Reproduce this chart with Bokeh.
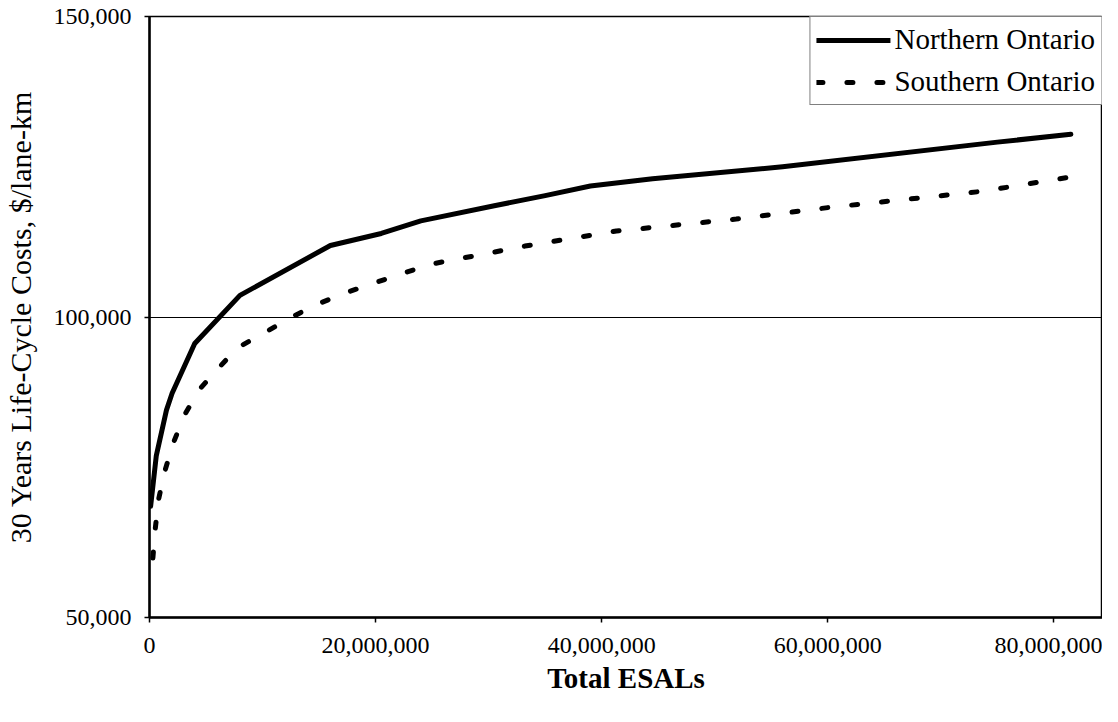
from bokeh.plotting import figure
from bokeh.models import NumeralTickFormatter, FixedTicker, Range1d
from bokeh.embed import file_html
from bokeh.resources import INLINE

# Data
north_esals = [100000, 600000, 1500000, 2000000, 4000000, 8000000, 16000000, 20500000,
               24000000, 30500000, 35000000, 39000000, 44500000, 56000000, 75000000, 81500000]
north_cost = [68500, 76900, 84500, 87300, 95600, 103600, 111900, 113900,
              116000, 118500, 120200, 121800, 123000, 125000, 129100, 130400]

south_esals = [300000, 500000, 800000, 1300000, 2100000, 3100000, 4400000, 6000000,
               7800000, 10200000, 12500000, 14800000, 17300000, 19800000, 22300000,
               24900000, 30500000, 33200000, 41300000, 51900000, 60000000, 68100000,
               73600000, 81200000]
south_cost = [59900, 64600, 69600, 74000, 79000, 83700, 87900, 91300,
              94900, 97400, 99900, 102100, 104000, 105600, 107200,
              108800, 110800, 111800, 114300, 116300, 118200, 119800,
              120900, 123200]

x_ticks = [0, 20000000, 40000000, 60000000, 80000000]
y_ticks = [50000, 100000, 150000]

FONT = "Liberation Serif"

p = figure(width=1102, height=706, output_backend="svg", toolbar_location=None,
           x_range=Range1d(0, 84300000), y_range=Range1d(50000, 150000),
           min_border_left=145, min_border_right=0, min_border_top=16, min_border_bottom=89)

p.background_fill_color = "white"
p.border_fill_color = "white"
p.outline_line_color = "black"
p.outline_line_width = 1.5

p.xgrid.visible = False
p.ygrid.ticker = FixedTicker(ticks=y_ticks)
p.ygrid.grid_line_color = "black"
p.ygrid.grid_line_width = 1.2

p.xaxis.ticker = FixedTicker(ticks=x_ticks)
p.yaxis.ticker = FixedTicker(ticks=y_ticks)
p.xaxis.formatter = NumeralTickFormatter(format="0,0")
p.yaxis.formatter = NumeralTickFormatter(format="0,0")

for ax in (p.xaxis, p.yaxis):
    ax.axis_line_color = "black"
    ax.axis_line_width = 2.5
    ax.major_tick_line_color = "black"
    ax.major_tick_line_width = 1.5
    ax.major_tick_in = 0
    ax.major_tick_out = 5
    ax.minor_tick_line_color = None
    ax.major_label_text_font = FONT
    ax.major_label_text_font_size = "24px"
    ax.major_label_text_color = "black"

p.xaxis.major_label_standoff = 15
p.yaxis.major_label_standoff = 13

p.xaxis.axis_label = "Total ESALs"
p.xaxis.axis_label_text_font = FONT
p.xaxis.axis_label_text_font_style = "bold"
p.xaxis.axis_label_text_font_size = "29px"
p.xaxis.axis_label_text_color = "black"
p.xaxis.axis_label_standoff = 6

p.yaxis.axis_label = "30 Years Life-Cycle Costs, $/lane-km"
p.yaxis.axis_label_text_font = FONT
p.yaxis.axis_label_text_font_style = "normal"
p.yaxis.axis_label_text_font_size = "30px"
p.yaxis.axis_label_text_color = "black"
p.yaxis.axis_label_standoff = 14

p.line(north_esals, north_cost, line_color="black", line_width=5,
       line_join="round", line_cap="round", legend_label="Northern Ontario")
p.line(south_esals, south_cost, line_color="black", line_width=5,
       line_dash="6 24", line_cap="round", legend_label="Southern Ontario")

lg = p.legend[0]
lg.location = "top_right"
lg.margin = 0
lg.padding = 6
lg.spacing = 9
lg.glyph_width = 74
lg.glyph_height = 30
lg.label_height = 30
lg.label_standoff = 4
lg.label_text_font = FONT
lg.label_text_font_size = "29px"
lg.label_text_color = "black"
lg.border_line_color = "black"
lg.border_line_width = 1.5
lg.background_fill_color = "white"
lg.background_fill_alpha = 1.0

open("out.html", "w").write(file_html(p, INLINE))
